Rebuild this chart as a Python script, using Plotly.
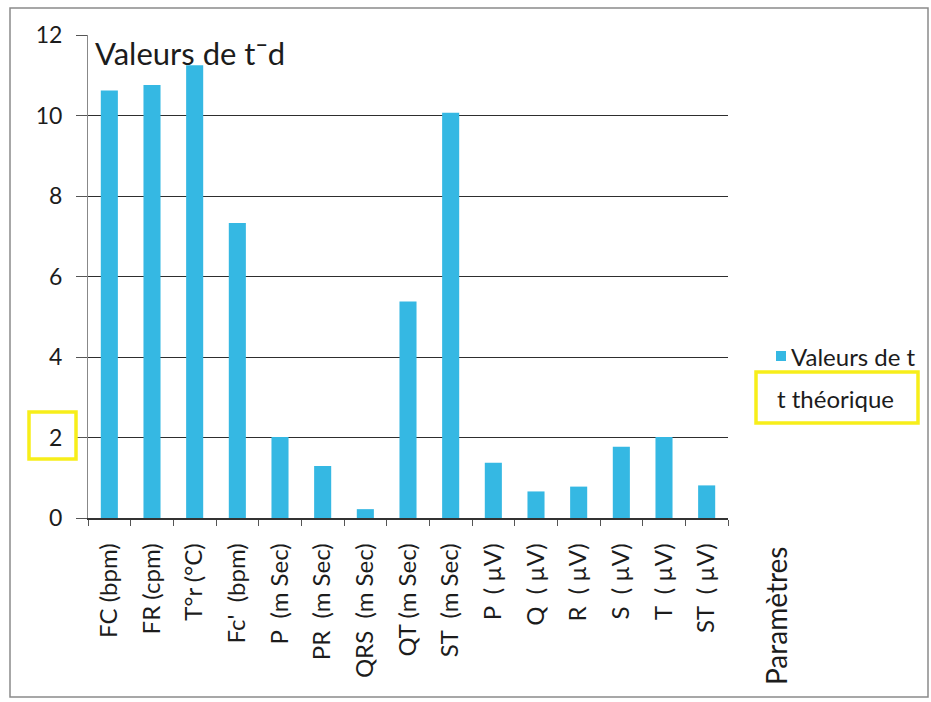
import plotly.graph_objects as go

# Paramètres mesurés et valeurs de t correspondantes
parametres = [
    "FC (bpm)", "FR (cpm)", "T°r (°C)", "Fc'  (bpm)", "P  (m Sec)",
    "PR  (m Sec)", "QRS  (m Sec)", "QT (m Sec)", "ST  (m Sec)",
    "P  ( µV)", "Q  ( µV)", "R  ( µV)", "S  ( µV)", "T  ( µV)", "ST  ( µV)",
]
valeurs_t = [10.62, 10.76, 11.25, 7.33, 2.01, 1.29, 0.22, 5.38, 10.07,
             1.37, 0.66, 0.78, 1.77, 2.01, 0.81]
y_ticks = [0, 2, 4, 6, 8, 10, 12]

W, H = 931, 702
L, R, T, B = 88, 728, 35, 518  # plot area in pixels

def px(x):
    return (x - L) / (R - L)

def py(y):
    return (B - y) / (B - T)

FONT = "Lato, Open Sans, sans-serif"
TXT = "#1c1c1c"
BLUE = "#35B8E3"
YELLOW = "#F7EE1A"

fig = go.Figure()
fig.add_trace(go.Bar(
    x=parametres, y=valeurs_t, name="Valeurs de t",
    marker=dict(color=BLUE, line=dict(width=0)), width=0.40,
    showlegend=False,
))

fig.update_layout(
    width=W, height=H,
    margin=dict(l=L, r=W - R, t=T, b=H - B),
    paper_bgcolor="white", plot_bgcolor="white",
    font=dict(family=FONT, size=16, color=TXT),
    showlegend=False,
)

fig.update_yaxes(
    range=[0, 12], tickvals=y_ticks, showgrid=True, gridcolor="#2e2e2e",
    gridwidth=1, zeroline=False, showline=True, linecolor="#888888",
    linewidth=1, ticks="outside", ticklen=11, tickcolor="#555555",
    tickfont=dict(size=23, color=TXT), ticklabelstandoff=9,
)
fig.update_xaxes(
    showline=True, linecolor="#333333", linewidth=1.5, ticks="outside",
    tickson="boundaries", ticklen=6, tickcolor="#555555",
    tickangle=-90, tickfont=dict(size=24, color=TXT),
    ticklabelstandoff=14,
    range=[-0.5, len(parametres) - 0.5],
)

fig.add_annotation(
    text="Valeurs de t¯d", x=px(93), y=py(53), xref="paper", yref="paper",
    xanchor="left", yanchor="middle", showarrow=False,
    font=dict(size=31, color=TXT),
)
fig.add_annotation(
    text="Paramètres", x=px(776), y=py(616), xref="paper", yref="paper",
    xanchor="center", yanchor="middle", showarrow=False, textangle=-90,
    font=dict(size=28, color=TXT),
)

# Légende : carré de la série et son libellé
fig.add_shape(type="rect", xref="paper", yref="paper",
              x0=px(776), x1=px(786), y0=py(361), y1=py(351),
              line=dict(width=0), fillcolor=BLUE)
fig.add_annotation(
    text="Valeurs de t", x=px(789), y=py(356), xref="paper", yref="paper",
    xanchor="left", yanchor="middle", showarrow=False,
    font=dict(size=24, color=TXT),
)
fig.add_annotation(
    text="t théorique", x=px(775), y=py(398), xref="paper", yref="paper",
    xanchor="left", yanchor="middle", showarrow=False,
    font=dict(size=24, color=TXT),
)

# Cadre extérieur du graphique
fig.add_shape(type="rect", xref="paper", yref="paper",
              x0=px(10), x1=px(928), y0=py(697), y1=py(8),
              line=dict(color="#8a8a8a", width=1.5))
# Encadrés de surlignage jaunes
fig.add_shape(type="rect", xref="paper", yref="paper",
              x0=px(29), x1=px(76), y0=py(459), y1=py(412),
              line=dict(color=YELLOW, width=3.5))
fig.add_shape(type="rect", xref="paper", yref="paper",
              x0=px(756), x1=px(918), y0=py(423), y1=py(372),
              line=dict(color=YELLOW, width=3.5))

fig.write_html("out.html")
